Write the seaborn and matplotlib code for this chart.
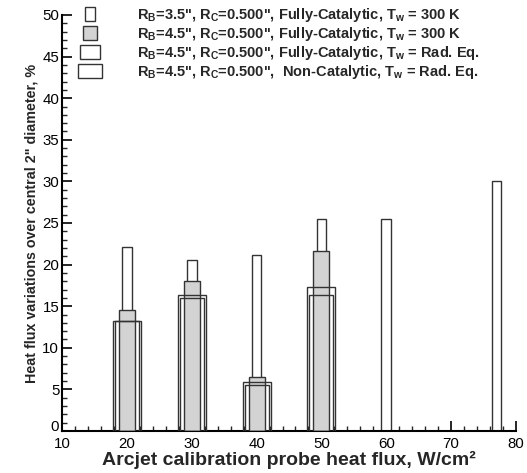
import matplotlib
matplotlib.use("Agg")
import matplotlib.pyplot as plt
import matplotlib.patches as mpatches
from matplotlib.legend_handler import HandlerPatch
from matplotlib.ticker import MultipleLocator
import seaborn as sns
import pandas as pd

# ---- data ----
x_s1 = [20, 30, 40, 50, 60, 77]
v_s1 = [22.1, 20.5, 21.2, 25.5, 25.5, 30.1]
x_s2 = [20, 30, 40, 50]
v_s2 = [14.6, 18.0, 6.5, 21.6]
x_s3 = [20, 30, 40, 50]
v_s3 = [13.2, 16.0, 5.5, 16.4]
x_s4 = [20, 30, 40, 50]
v_s4 = [13.2, 16.3, 5.9, 17.3]

labels = [
    r'R$_\mathbf{B}$=3.5", R$_\mathbf{C}$=0.500", Fully-Catalytic, T$_\mathbf{w}$ = 300 K',
    r'R$_\mathbf{B}$=4.5", R$_\mathbf{C}$=0.500", Fully-Catalytic, T$_\mathbf{w}$ = 300 K',
    r'R$_\mathbf{B}$=4.5", R$_\mathbf{C}$=0.500", Fully-Catalytic, T$_\mathbf{w}$ = Rad. Eq.',
    r'R$_\mathbf{B}$=4.5", R$_\mathbf{C}$=0.500",  Non-Catalytic, T$_\mathbf{w}$ = Rad. Eq.',
]

sns.set_style("ticks")
plt.rcParams['font.family'] = ['Liberation Sans', 'DejaVu Sans']
plt.rcParams['mathtext.fontset'] = 'custom'
plt.rcParams['mathtext.rm'] = 'Liberation Sans'
plt.rcParams['mathtext.bf'] = 'Liberation Sans:bold'
plt.rcParams['mathtext.it'] = 'Liberation Sans:italic'

EDGE = '#333333'
GRAY = '#d3d3d3'

fig = plt.figure(figsize=(5.27, 4.73), dpi=100)
ax = fig.add_axes([62/527, 42/473, 454/527, 416/473])

df1 = pd.DataFrame({'x': x_s1, 'y': v_s1})
df2 = pd.DataFrame({'x': x_s2, 'y': v_s2})
df3 = pd.DataFrame({'x': x_s3, 'y': v_s3})
df4 = pd.DataFrame({'x': x_s4, 'y': v_s4})

lw = 1.0
sns.barplot(data=df1, x='x', y='y', native_scale=True, width=0.15, color='white',
            edgecolor=EDGE, linewidth=lw, errorbar=None, ax=ax, saturation=1, zorder=2)
sns.barplot(data=df2, x='x', y='y', native_scale=True, width=0.247, color=GRAY,
            edgecolor=EDGE, linewidth=lw, errorbar=None, ax=ax, saturation=1, zorder=3)
sns.barplot(data=df3, x='x', y='y', native_scale=True, width=0.37, color=EDGE,
            fill=False, linewidth=lw, errorbar=None, ax=ax, saturation=1, zorder=4)
sns.barplot(data=df4, x='x', y='y', native_scale=True, width=0.43, color=EDGE,
            fill=False, linewidth=lw, errorbar=None, ax=ax, saturation=1, zorder=4)

ax.set_xlim(10, 80)
ax.set_ylim(0, 50)
ax.xaxis.set_major_locator(MultipleLocator(10))
ax.xaxis.set_minor_locator(MultipleLocator(2))
ax.yaxis.set_major_locator(MultipleLocator(5))
ax.yaxis.set_minor_locator(MultipleLocator(1))
ax.tick_params(which='major', direction='in', length=7, width=1.2, labelsize=10.8, colors='black')
ax.tick_params(axis='x', which='major', pad=4.5)
ax.tick_params(axis='y', which='major', pad=2)
ax.tick_params(which='minor', direction='in', length=3.8, width=1.0)
for s in ['top', 'right']:
    ax.spines[s].set_visible(False)
for s in ['left', 'bottom']:
    ax.spines[s].set_linewidth(1.5)
    ax.spines[s].set_color('black')

ax.set_xlabel('Arcjet calibration probe heat flux, W/cm\u00b2', fontsize=14,
              fontweight='bold', labelpad=0)
ax.set_ylabel('Heat flux variations over central 2" diameter, %', fontsize=10.3,
              fontweight='bold', labelpad=3)

# lift the "0" y tick label slightly so it does not collide with "10"
fig.canvas.draw()
for t in ax.yaxis.get_major_ticks():
    if abs(t.get_loc()) < 1e-9:
        t.label1.set_verticalalignment('baseline')

# legend
box_w = [6.7, 10.1, 14.2, 17.8]
handles = [
    mpatches.Rectangle((0, 0), 1, 1, facecolor='white', edgecolor=EDGE, linewidth=lw),
    mpatches.Rectangle((0, 0), 1, 1, facecolor=GRAY, edgecolor=EDGE, linewidth=lw),
    mpatches.Rectangle((0, 0), 1, 1, facecolor='white', edgecolor=EDGE, linewidth=lw),
    mpatches.Rectangle((0, 0), 1, 1, facecolor='white', edgecolor=EDGE, linewidth=lw),
]

def make_func(w):
    def f(legend, orig_handle, xdescent, ydescent, width, height, fontsize):
        return mpatches.Rectangle((width / 2 - w / 2 - xdescent, -ydescent), w, height)
    return f

FS = 10.5
hmap = {h: HandlerPatch(patch_func=make_func(w)) for h, w in zip(handles, box_w)}
leg = ax.legend(handles, labels, handler_map=hmap, loc='upper left',
                bbox_to_anchor=(0.034, 1.022), frameon=False, borderpad=0, borderaxespad=0,
                handlelength=18 / FS, handleheight=10.8 / FS, handletextpad=25 / FS,
                labelspacing=0.07, prop={'size': FS, 'weight': 'bold'})

fig.savefig('out.png', dpi=100)
